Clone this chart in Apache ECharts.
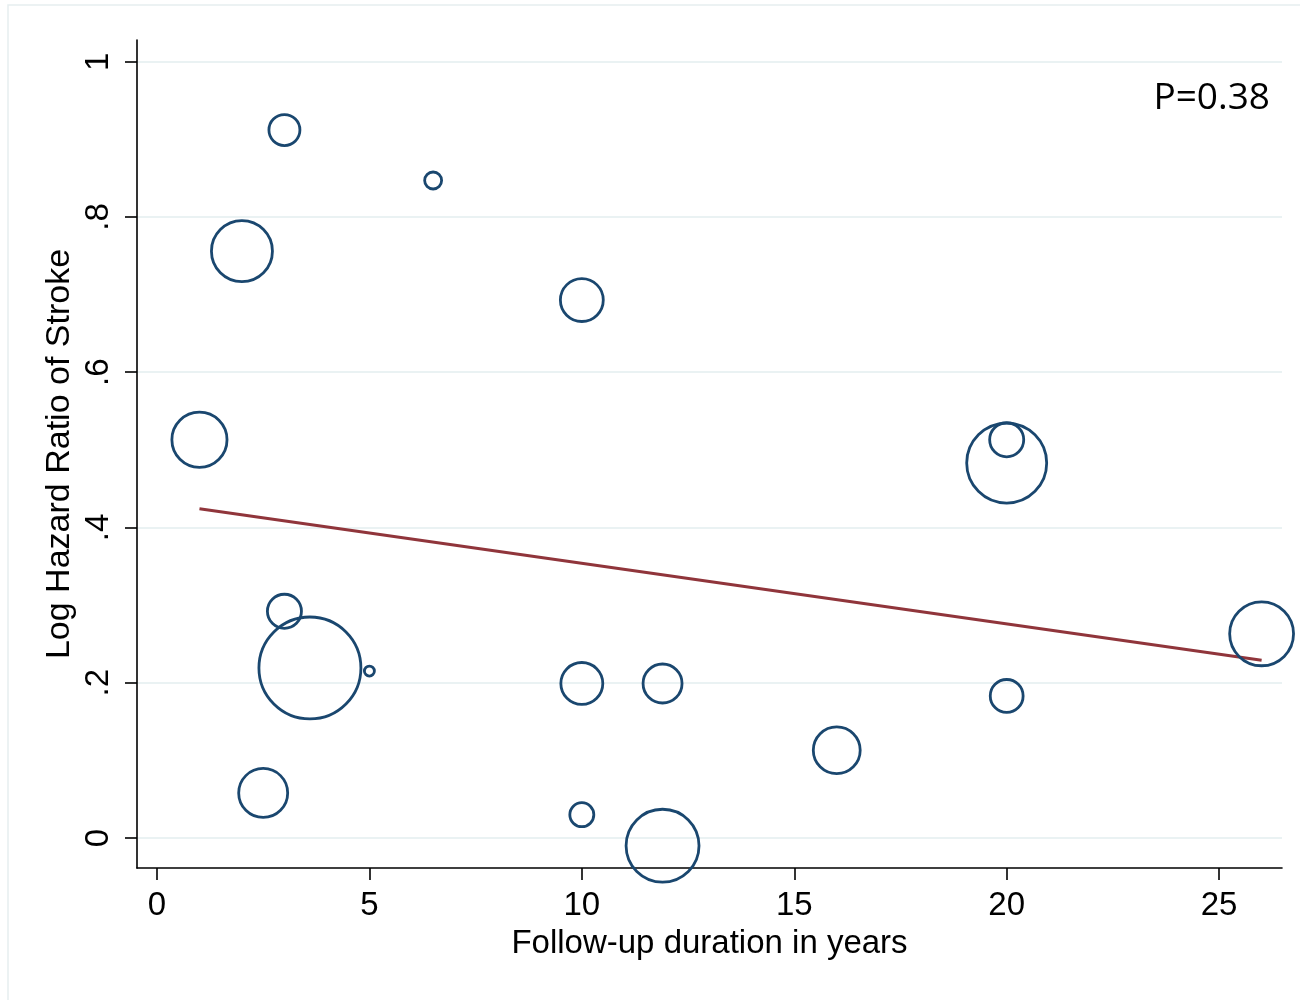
<!DOCTYPE html>
<html>
<head>
<meta charset="utf-8">
<script src="https://cdn.jsdelivr.net/npm/echarts@6/dist/echarts.min.js"></script>
<style>
  html, body { margin: 0; padding: 0; background: #fff; }
  #main { width: 1300px; height: 1000px; }
</style>
</head>
<body>
<div id="main"></div>
<script>
// follow-up (years), log HR, study weight (bubble area)
var followUp = [3.0, 6.5, 2.0, 10.0, 1.0, 20.0, 20.0, 3.0, 3.6, 5.0, 10.0, 11.9, 20.0, 26.0, 16.0, 2.5, 10.0, 11.9];
var logHR    = [0.912, 0.847, 0.756, 0.693, 0.513, 0.513, 0.483, 0.292, 0.219, 0.215, 0.199, 0.199, 0.183, 0.263, 0.113, 0.058, 0.030, -0.010];
var weights  = [2.4, 0.72, 9.3, 4.6, 7.6, 2.9, 16.0, 2.9, 26.0, 0.25, 4.4, 3.8, 2.7, 10.2, 5.5, 6.0, 1.44, 13.3];

// fitted meta-regression line
var fitX = [1, 26];
var fitY = [0.424, 0.229];

var xTicks = [0, 5, 10, 15, 20, 25];
var yTicks = [0, 0.2, 0.4, 0.6, 0.8, 1];
var pLabel = 'P=0.38';

window.onload = () => {
    var chart = echarts.init(document.getElementById('main'));

    var bubbles = followUp.map((x, i) => [x, logHR[i], weights[i]]);
    var fitLine = fitX.map((x, i) => [x, fitY[i]]);

    chart.setOption({
        animation: false,
        backgroundColor: '#fff',
        textStyle: { fontFamily: 'Liberation Sans' },
        graphic: [
            {
                type: 'rect',
                shape: { x: 8, y: 5, width: 1310, height: 1010 },
                style: { fill: 'none', stroke: '#e6eef0', lineWidth: 1.5 },
                silent: true
            },
            {
                type: 'text',
                right: 30,
                top: 80,
                style: {
                    text: pLabel,
                    font: '37px "Open Sans"',
                    fill: '#000'
                }
            }
        ],
        grid: { left: 137, right: 18, top: 40, bottom: 132 },
        xAxis: {
            type: 'value',
            min: -0.47,
            max: 26.48,
            name: 'Follow-up duration in years',
            nameLocation: 'middle',
            nameGap: 59,
            nameTextStyle: { fontSize: 33, color: '#000' },
            axisLine: { onZero: false, lineStyle: { color: '#000', width: 1.6 } },
            axisTick: { show: true, length: 12, customValues: xTicks, lineStyle: { color: '#000', width: 1.6 } },
            axisLabel: { customValues: xTicks, fontSize: 33, color: '#000', margin: 21 },
            splitLine: { show: false }
        },
        yAxis: {
            type: 'value',
            min: -0.0387,
            max: 1.028,
            name: 'Log Hazard Ratio of Stroke',
            nameLocation: 'middle',
            nameGap: 60,
            nameMoveOverlap: false,
            nameRotate: 90,
            nameTextStyle: { fontSize: 34, color: '#000' },
            axisLine: { show: true, onZero: false, lineStyle: { color: '#000', width: 1.6 } },
            axisTick: { show: true, length: 12, customValues: yTicks, lineStyle: { color: '#000', width: 1.6 } },
            axisLabel: {
                customValues: yTicks,
                rotate: 90,
                fontSize: 33,
                color: '#000',
                margin: 22,
                formatter: v => {
                    if (v === 0 || v === 1) return String(v);
                    return String(Math.round(v * 10) / 10).replace(/^0/, '');
                }
            },
            splitLine: { show: true, lineStyle: { color: '#eaf2f3', width: 2 } }
        },
        series: [
            {
                type: 'scatter',
                data: bubbles,
                symbol: 'circle',
                symbolSize: d => 20 * Math.sqrt(d[2]),
                itemStyle: { color: 'rgba(0,0,0,0)', borderColor: '#1a476f', borderWidth: 2.8, opacity: 1 },
                z: 3
            },
            {
                type: 'line',
                data: fitLine,
                showSymbol: false,
                lineStyle: { color: '#90353b', width: 3 },
                z: 2
            }
        ]
    });
};
</script>
</body>
</html>
